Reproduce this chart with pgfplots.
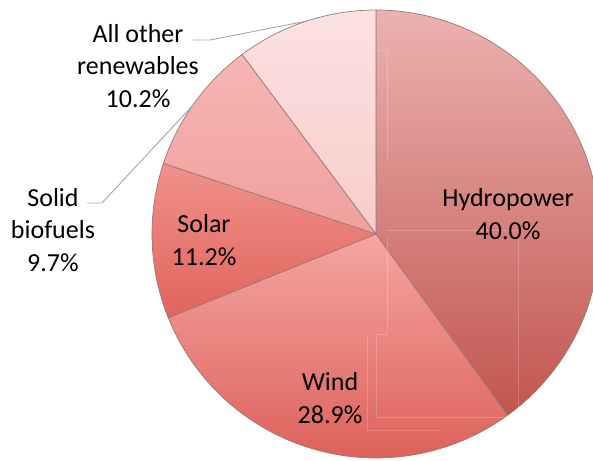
\documentclass[border=0pt]{standalone}
\usepackage{pgfplots}
\usepackage{pgfplotstable}
\pgfplotsset{compat=1.18}
\usepackage{fontspec}
\setmainfont{Carlito}

\definecolor{hydroT}{HTML}{EBB2B0}
\definecolor{hydroB}{HTML}{C2554F}
\definecolor{windT}{HTML}{F5A5A1}
\definecolor{windB}{HTML}{DD625B}
\definecolor{solarT}{HTML}{F0918B}
\definecolor{solarB}{HTML}{E0645C}
\definecolor{solidT}{HTML}{F6B6B4}
\definecolor{solidB}{HTML}{F0A09D}
\definecolor{otherT}{HTML}{FCE1E0}
\definecolor{otherB}{HTML}{F8CCCB}
\definecolor{edgec}{HTML}{9C7878}
\definecolor{leader}{HTML}{A6A6A6}

\pgfplotstableread{
label pct
Hydropower 40.0
Wind 28.9
Solar 11.2
Solidbiofuels 9.7
Other 10.2
}\piedata

\pgfplotstablegetelem{0}{pct}\of\piedata \let\pA\pgfplotsretval
\pgfplotstablegetelem{1}{pct}\of\piedata \let\pB\pgfplotsretval
\pgfplotstablegetelem{2}{pct}\of\piedata \let\pC\pgfplotsretval
\pgfplotstablegetelem{3}{pct}\of\piedata \let\pD\pgfplotsretval
\pgfplotstablegetelem{4}{pct}\of\piedata \let\pE\pgfplotsretval
\pgfmathsetmacro\aO{90}
\pgfmathsetmacro\aA{\aO-3.6*\pA}
\pgfmathsetmacro\aB{\aA-3.6*\pB}
\pgfmathsetmacro\aC{\aB-3.6*\pC}
\pgfmathsetmacro\aD{\aC-3.6*\pD}
\pgfmathsetmacro\aE{\aD-3.6*\pE}
\def\cx{376}
\def\cy{234}
\def\R{224}

\begin{document}
\begin{tikzpicture}
\begin{axis}[
  width=593bp, height=461bp, scale only axis,
  xmin=0, xmax=593, ymin=0, ymax=461, y dir=reverse,
  hide axis, clip=true,
]
\addplot[draw=none, forget plot] coordinates {(0,0) (593,461)};
% slices
\addplot[top color=hydroT, bottom color=hydroB, draw=edgec, line width=0.7bp, domain=\aA:\aO, samples=90, variable=\t]
  ({\cx+\R*cos(\t)}, {\cy-\R*sin(\t)}) -- (axis cs:\cx,\cy) -- cycle;
\addplot[top color=windT, bottom color=windB, draw=edgec, line width=0.7bp, domain=\aB:\aA, samples=70, variable=\t]
  ({\cx+\R*cos(\t)}, {\cy-\R*sin(\t)}) -- (axis cs:\cx,\cy) -- cycle;
\addplot[top color=solarT, bottom color=solarB, draw=edgec, line width=0.7bp, domain=\aC:\aB, samples=30, variable=\t]
  ({\cx+\R*cos(\t)}, {\cy-\R*sin(\t)}) -- (axis cs:\cx,\cy) -- cycle;
\addplot[top color=solidT, bottom color=solidB, draw=edgec, line width=0.7bp, domain=\aD:\aC, samples=30, variable=\t]
  ({\cx+\R*cos(\t)}, {\cy-\R*sin(\t)}) -- (axis cs:\cx,\cy) -- cycle;
\addplot[top color=otherT, bottom color=otherB, draw=edgec, line width=0.7bp, domain=\aE:\aD, samples=30, variable=\t]
  ({\cx+\R*cos(\t)}, {\cy-\R*sin(\t)}) -- (axis cs:\cx,\cy) -- cycle;
% faint label-box lines
\addplot[white, opacity=0.2, line width=0.6bp] coordinates {(378,50) (387,50) (387,160)};
\addplot[white, opacity=0.2, line width=0.6bp] coordinates {(387,230) (518,230) (518,410)};
\addplot[white, opacity=0.2, line width=0.6bp] coordinates {(387,236) (387,334) (376,334) (376,417) (508,417)};
\addplot[white, opacity=0.18, line width=0.6bp] coordinates {(367,335) (367,430) (440,430)};
% leader lines
\addplot[leader, line width=0.9bp] coordinates {(193,40) (210,40) (307,21)};
\addplot[leader, line width=0.9bp] coordinates {(87,203) (102,203) (194,104)};
% labels
\begin{scope}[every node/.style={align=center, font=\fontsize{26bp}{32.5bp}\selectfont, text=black, inner sep=0pt}]
\node at (axis cs:138,66) {All other\\renewables\\10.2\%};
\node at (axis cs:53,230) {Solid\\biofuels\\9.7\%};
\node at (axis cs:204,240) {Solar\\11.2\%};
\node at (axis cs:508,214) {Hydropower\\40.0\%};
\node at (axis cs:330,398) {Wind\\28.9\%};
\end{scope}
\end{axis}
\end{tikzpicture}
\end{document}
